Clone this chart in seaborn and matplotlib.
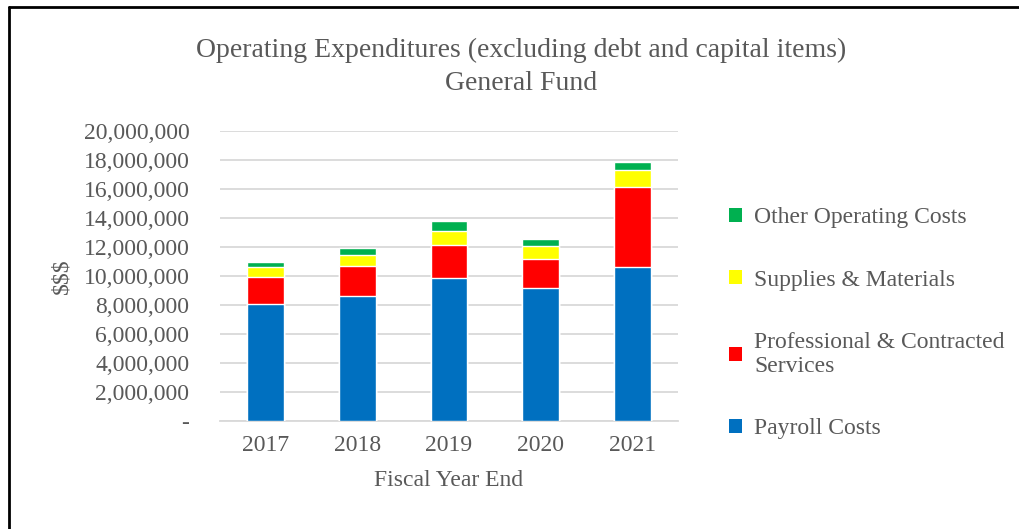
import numpy as np
import pandas as pd
import seaborn as sns
import matplotlib.pyplot as plt
from matplotlib.patches import Patch
from matplotlib.lines import Line2D
from matplotlib.ticker import FuncFormatter

#data (dollars)
years = ['2017', '2018', '2019', '2020', '2021']
payroll = [8100000, 8600000, 9870000, 9180000, 10630000]
professional = [1820000, 2060000, 2290000, 1960000, 5490000]
supplies = [710000, 800000, 920000, 900000, 1160000]
other = [370000, 440000, 710000, 510000, 570000]

series = ['Payroll Costs', 'Professional & Contracted\nServices',
          'Supplies & Materials', 'Other Operating Costs']
colors = ['#0070c0', '#ff0000', '#ffff00', '#00b050']
grey = '#595959'

sns.set_style('white')
plt.rcParams['font.family'] = ['Liberation Serif', 'DejaVu Serif']

fig = plt.figure(figsize=(10.19, 5.29), dpi=100)
ax = fig.add_axes([220/1019, 1-421/529, 458/1019, 290/529])

#stacked bars: draw cumulative totals from the top layer down
df = pd.DataFrame({'year': years, 'p': payroll, 'c': professional,
                   's': supplies, 'o': other})
layers = [df['p'], df['p'] + df['c'], df['p'] + df['c'] + df['s'],
          df['p'] + df['c'] + df['s'] + df['o']]
for cum, col in reversed(list(zip(layers, colors))):
    sns.barplot(x=df['year'], y=cum, color=col, width=0.4, ax=ax,
                saturation=1, zorder=3)

ax.set_ylim(0, 20000000)
ax.set_xlim(-0.5, 4.5)
ax.set_yticks(np.arange(0, 20000001, 2000000))
ax.yaxis.set_major_formatter(FuncFormatter(lambda v, p: '-' if v == 0 else f'{int(v):,}'))
ax.grid(axis='y', color='#d9d9d9', lw=1.3, zorder=0)
ax.grid(axis='x', visible=False)
for s in ['top', 'right', 'left']:
    ax.spines[s].set_visible(False)
ax.spines['bottom'].set_color('#d9d9d9')
ax.spines['bottom'].set_linewidth(1.3)
ax.tick_params(axis='both', colors=grey, labelsize=17, length=0)
ax.tick_params(axis='y', pad=22)
ax.tick_params(axis='x', pad=10)
ax.set_xlabel('Fiscal Year End', fontsize=17, color=grey, labelpad=10)
ax.set_ylabel('$$$', fontsize=17, color=grey, labelpad=8)

fig.text(521/1019, 1-50/529, 'Operating Expenditures (excluding debt and capital items)',
         ha='center', va='center', fontsize=20, color=grey)
fig.text(521/1019, 1-84/529, 'General Fund', ha='center', va='center',
         fontsize=20, color=grey)

handles = [Patch(facecolor=c, edgecolor='none') for c in colors]
leg = fig.legend(handles[::-1], series[::-1], loc='upper left',
                 bbox_to_anchor=(708/1019, 1-186/529), frameon=False,
                 fontsize=17, handlelength=0.55, handleheight=0.55,
                 handletextpad=0.5, labelspacing=1.75, labelcolor=grey)

#border lines on top and left of the picture
fig.add_artist(Line2D([9/1019, 1], [1-7/529, 1-7/529], color='black', lw=2))
fig.add_artist(Line2D([9/1019, 9/1019], [0, 1-7/529], color='black', lw=2))

plt.savefig('out.png', dpi=100)
